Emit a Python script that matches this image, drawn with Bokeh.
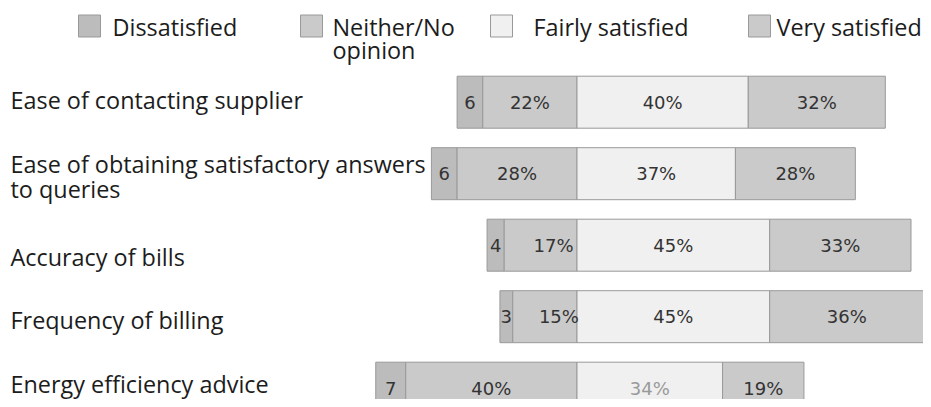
from bokeh.plotting import figure
from bokeh.models import Range1d
from bokeh.core.properties import value
from bokeh.embed import file_html
from bokeh.resources import INLINE

# ---------------- data ----------------
categories = [
    "Ease of contacting supplier",
    "Ease of obtaining satisfactory answers\nto queries",
    "Accuracy of bills",
    "Frequency of billing",
    "Energy efficiency advice",
]
dissatisfied = [6, 6, 4, 3, 7]
neither = [22, 28, 17, 15, 40]
fairly = [40, 37, 45, 45, 34]
very = [32, 28, 33, 36, 19]
series_names = ["Dissatisfied", "Neither/No\nopinion", "Fairly satisfied", "Very satisfied"]

# ---------------- layout / style ----------------
W, H = 923, 399
PX_PER_PCT = 4.282
CENTER_PX = 576.5          # zero line, px from figure left
ROW_PX = 71.5              # row pitch in px
FIRST_ROW_PX = 101.7       # centre of first bar, px from figure top
X0 = -CENTER_PX / PX_PER_PCT
X1 = X0 + W / PX_PER_PCT
Y_TOP = -FIRST_ROW_PX / ROW_PX
Y_BOT = Y_TOP + H / ROW_PX


def sx(px):
    return X0 + px / PX_PER_PCT


def sy(py):
    return Y_TOP + py / ROW_PX


COLORS = ["#bcbcbc", "#cacaca", "#f0f0f0", "#cacaca"]
EDGE = "#999999"
TXT = "#1c1c1c"
NUM_TXT = "#333333"
LABEL_FONT = value("Open Sans")
NUM_FONT = value("DejaVu Sans")
LABEL_SIZE = "23.4px"
BAR_H = 52 / ROW_PX

p = figure(
    width=W, height=H,
    x_range=Range1d(X0, X1), y_range=Range1d(Y_BOT, Y_TOP),
    output_backend="svg", toolbar_location=None,
    x_axis_location=None, y_axis_location=None,
    min_border=0, outline_line_color=None,
    background_fill_color="white", border_fill_color="white",
)
p.grid.visible = False

rows = list(range(len(categories)))
lefts = [
    [-(d + n) for d, n in zip(dissatisfied, neither)],
    [-n for n in neither],
    [0 for _ in fairly],
    [f for f in fairly],
]
rights = [
    [-n for n in neither],
    [0 for _ in neither],
    [f for f in fairly],
    [f + v for f, v in zip(fairly, very)],
]
for k in range(4):
    p.hbar(y=rows, left=lefts[k], right=rights[k], height=BAR_H,
           fill_color=COLORS[k], line_color=EDGE, line_width=1)

# value labels
series_vals = [dissatisfied, neither, fairly, very]
dx_neither = [0, 0, 13, 14, 0]
for k in range(4):
    vals = series_vals[k]
    xs = [(l + r) / 2 for l, r in zip(lefts[k], rights[k])]
    if k == 0:
        txt = [str(v) for v in vals]
    else:
        txt = [f"{v}%" for v in vals]
    xoff = dx_neither if k == 1 else [0] * len(vals)
    cols = [NUM_TXT] * len(vals)
    if k == 2:
        cols[4] = "#9a9a9a"
    p.text(x=xs, y=rows, text=txt, x_offset=xoff, y_offset=0,
           text_align="center", text_baseline="middle",
           text_font=NUM_FONT, text_font_size="18px", text_color=cols)

# category labels (left)
label_dy = [[-2.2], [-10.0, 15.0], [11.8], [3.6], [-4.5]]
lx, ly, lt, lo = [], [], [], []
for i, cat in enumerate(categories):
    for j, line in enumerate(cat.split("\n")):
        lx.append(sx(10))
        ly.append(i)
        lt.append(line)
        lo.append(label_dy[i][j])
p.text(x=lx, y=ly, text=lt, y_offset=lo, text_align="left",
       text_baseline="alphabetic", text_font=LABEL_FONT,
       text_font_size=LABEL_SIZE, text_color=TXT)

# legend
sq_left = [78, 300, 490, 748]
txt_left = [112, 332, 533, 776]
SQ = 22
p.rect(x=[sx(a + SQ / 2) for a in sq_left], y=[sy(25.5)] * 4,
       width=SQ, height=SQ, width_units="screen", height_units="screen",
       fill_color=COLORS, line_color=EDGE, line_width=1)
gx, gy, gt = [], [], []
for k, name in enumerate(series_names):
    for j, line in enumerate(name.split("\n")):
        gx.append(sx(txt_left[k]))
        gy.append(sy(26.0 + 23.5 * j))
        gt.append(line)
p.text(x=gx, y=gy, text=gt, text_align="left", text_baseline="alphabetic",
       text_font=LABEL_FONT, text_font_size=LABEL_SIZE, text_color=TXT)

open("out.html", "w").write(file_html(p, INLINE))
